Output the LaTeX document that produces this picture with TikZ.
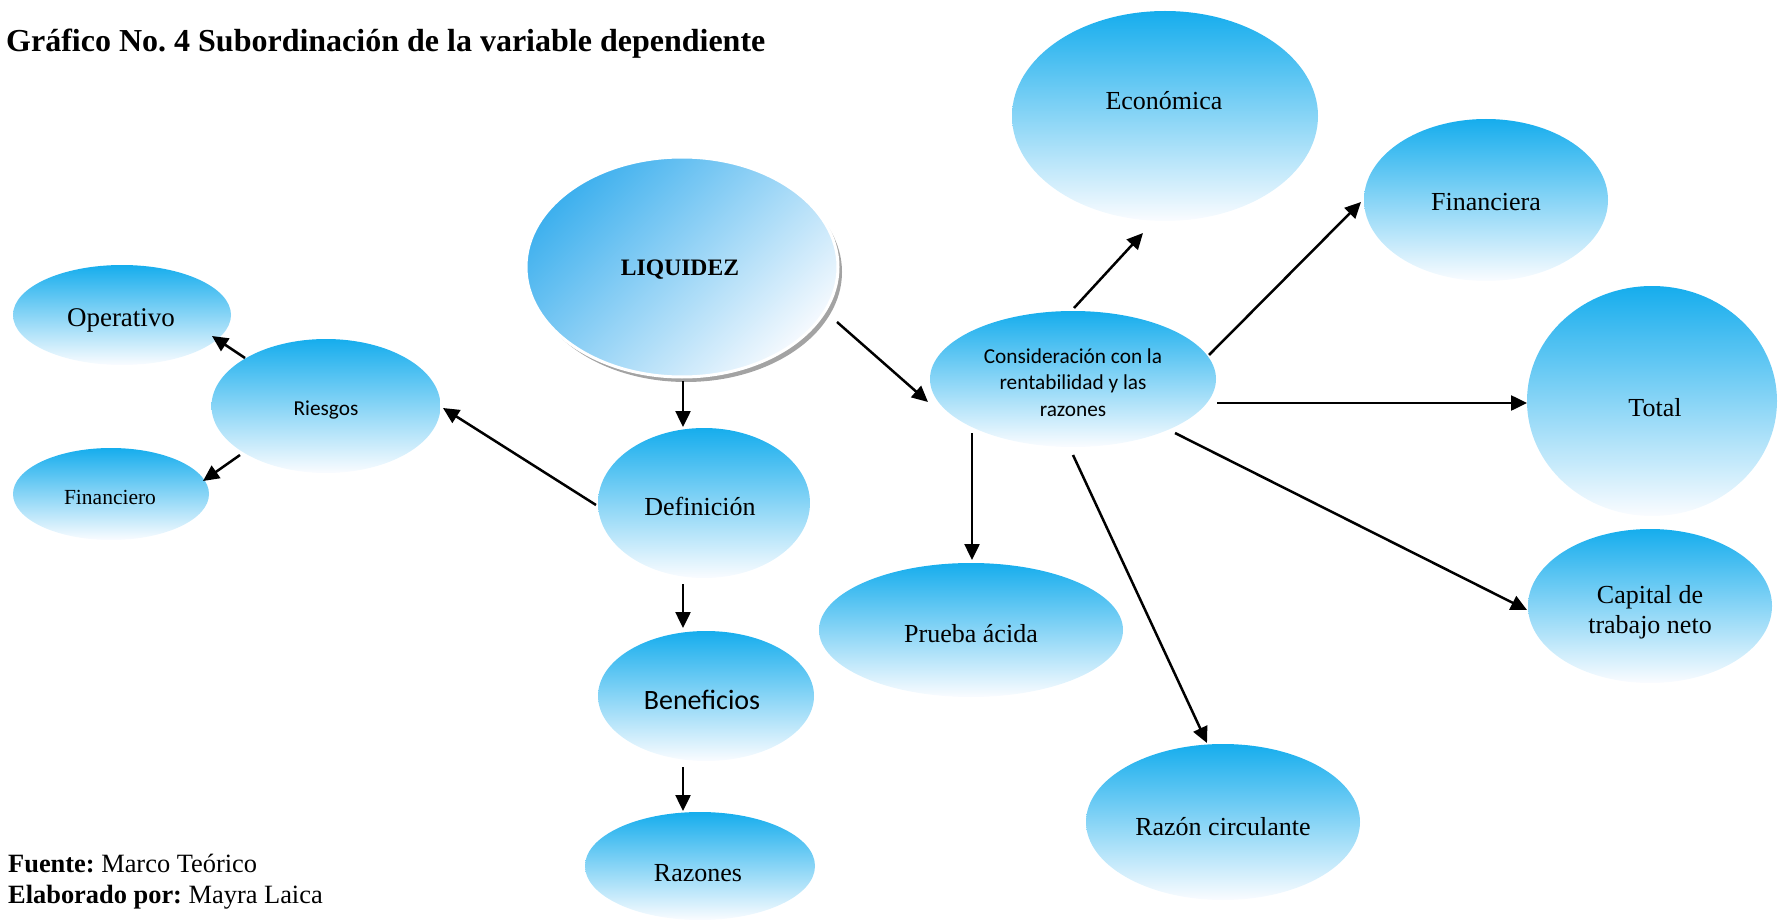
\documentclass[tikz,border=0pt]{standalone}
\usepackage{fontspec}
\usepackage{graphicx}
\setmainfont{Liberation Serif}
\newfontfamily\calfont{Carlito}
\usetikzlibrary{arrows.meta,shapes.geometric,shadows}
\definecolor{bubtop}{RGB}{22,173,237}
\definecolor{bubbot}{RGB}{250,252,255}
\definecolor{liqtop}{RGB}{62,176,238}
\definecolor{liqbot}{RGB}{244,249,254}
\begin{document}
\frenchspacing
\begin{tikzpicture}[x=1pt,y=-1pt,
  bub/.style={ellipse, inner sep=0pt, top color=bubtop, bottom color=bubbot},
  lbl/.style={anchor=base, inner sep=0pt, font=\fontsize{26}{30}\selectfont},
  sml/.style={anchor=base, inner sep=0pt, font=\fontsize{21.5}{25}\selectfont},
  cal/.style={anchor=base, inner sep=0pt, font=\calfont\fontsize{21.3}{25}\selectfont},
  arr/.style={line width=2.5pt, -{Triangle[length=16pt,width=15pt]}},
  foot/.style={anchor=base west, inner sep=0pt, font=\fontsize{26.4}{30}\selectfont},
]
\useasboundingbox (0,0) rectangle (1778,920);

% title
\node[anchor=base west, inner sep=0pt, font=\fontsize{32}{36}\selectfont\bfseries] (title) at (6,52)
  {Gráfico No. 4 Subordinación de la variable dependiente};

% ellipses
\node[bub, minimum width=306pt, minimum height=210pt] (eco) at (1165,116) {};
\node[bub, minimum width=244pt, minimum height=162pt] (fin) at (1486,200) {};
\node[ellipse, inner sep=0pt, minimum width=312pt, minimum height=220pt,
      draw=white, line width=3pt, top color=liqtop, bottom color=liqbot, shading angle=45,
      drop shadow={shadow xshift=4pt, shadow yshift=-5pt, fill=black!60, opacity=0.6}] (liq) at (682,267) {};
\node[bub, minimum width=218pt, minimum height=100pt] (ope) at (122,315) {};
\node[bub, minimum width=229pt, minimum height=134pt] (rie) at (326,406) {};
\node[bub, minimum width=196pt, minimum height=92pt] (fnc) at (111,494) {};
\node[bub, minimum width=286pt, minimum height=136pt] (con) at (1073,379) {};
\node[bub, minimum width=250pt, minimum height=230pt] (tot) at (1652,401) {};
\node[bub, minimum width=212pt, minimum height=150pt] (def) at (704,503) {};
\node[bub, minimum width=304pt, minimum height=134pt] (pru) at (971,630) {};
\node[bub, minimum width=244pt, minimum height=154pt] (cap) at (1650,606) {};
\node[bub, minimum width=216pt, minimum height=130pt] (ben) at (706,696) {};
\node[bub, minimum width=274pt, minimum height=156pt] (rzc) at (1223,822) {};
\node[bub, minimum width=230pt, minimum height=108pt] (raz) at (700,866) {};

% texts
\node[lbl] (ecoT) at (1164,110) {Económica};
\node[lbl] (finT) at (1486,211) {Financiera};
\node[anchor=base, inner sep=0pt, font=\fontsize{23.6}{27}\selectfont\bfseries] (liqT) at (680,276) {LIQUIDEZ};
\node[lbl, font=\fontsize{27}{30}\selectfont] (opeT) at (121,326) {Operativo};
\node[cal] (rieT) at (326,415) {Riesgos};
\node[sml] (fncT) at (110,504) {Financiero};
\node[cal] (conT1) at (1073,363) {Consideración con la};
\node[cal] (conT2) at (1073,389) {rentabilidad y las};
\node[cal] (conT3) at (1073,416) {razones};
\node[lbl] (totT) at (1655,416) {Total};
\node[lbl] (defT) at (700,515) {Definición};
\node[lbl] (pruT) at (971,642) {Prueba ácida};
\node[lbl] (capT1) at (1650,603) {Capital de};
\node[lbl] (capT2) at (1650,633) {trabajo neto};
\node[cal, font=\calfont\fontsize{28}{32}\selectfont] (benT) at (702,709) {Beneficios};
\node[lbl] (rzcT) at (1223,835) {Razón circulante};
\node[lbl] (razT) at (698,881) {Razones};

% footer
\node[foot] (f1) at (8,872) {\textbf{Fuente:} Marco Teórico};
\node[foot] (f2) at (8,903) {\textbf{Elaborado por:} Mayra Laica};

% connector end points
\coordinate (a1s) at (683,381);  \coordinate (a1e) at (683,427);
\coordinate (a2s) at (683,584);  \coordinate (a2e) at (683,628);
\coordinate (a3s) at (683,767);  \coordinate (a3e) at (683,811);
\coordinate (a4s) at (596,505);  \coordinate (a4e) at (443,408);
\coordinate (a5s) at (245,358);  \coordinate (a5e) at (212,336);
\coordinate (a6s) at (240,455);  \coordinate (a6e) at (203,481);
\coordinate (a7s) at (837,322);  \coordinate (a7e) at (928,402);
\coordinate (a8s) at (1074,308); \coordinate (a8e) at (1143,233);
\coordinate (a9s) at (1209,355); \coordinate (a9e) at (1361,202);
\coordinate (a10s) at (1217,403); \coordinate (a10e) at (1527,403);
\coordinate (a11s) at (972,433); \coordinate (a11e) at (972,560);
\coordinate (a12s) at (1073,455); \coordinate (a12e) at (1207,743);
\coordinate (a13s) at (1175,433); \coordinate (a13e) at (1527,610);

\draw[arr] (a1s) -- (a1e);
\draw[arr] (a2s) -- (a2e);
\draw[arr] (a3s) -- (a3e);
\draw[arr] (a4s) -- (a4e);
\draw[arr] (a5s) -- (a5e);
\draw[arr] (a6s) -- (a6e);
\draw[arr] (a7s) -- (a7e);
\draw[arr] (a8s) -- (a8e);
\draw[arr] (a9s) -- (a9e);
\draw[arr] (a10s) -- (a10e);
\draw[arr] (a11s) -- (a11e);
\draw[arr] (a12s) -- (a12e);
\draw[arr] (a13s) -- (a13e);
\end{tikzpicture}
\end{document}
